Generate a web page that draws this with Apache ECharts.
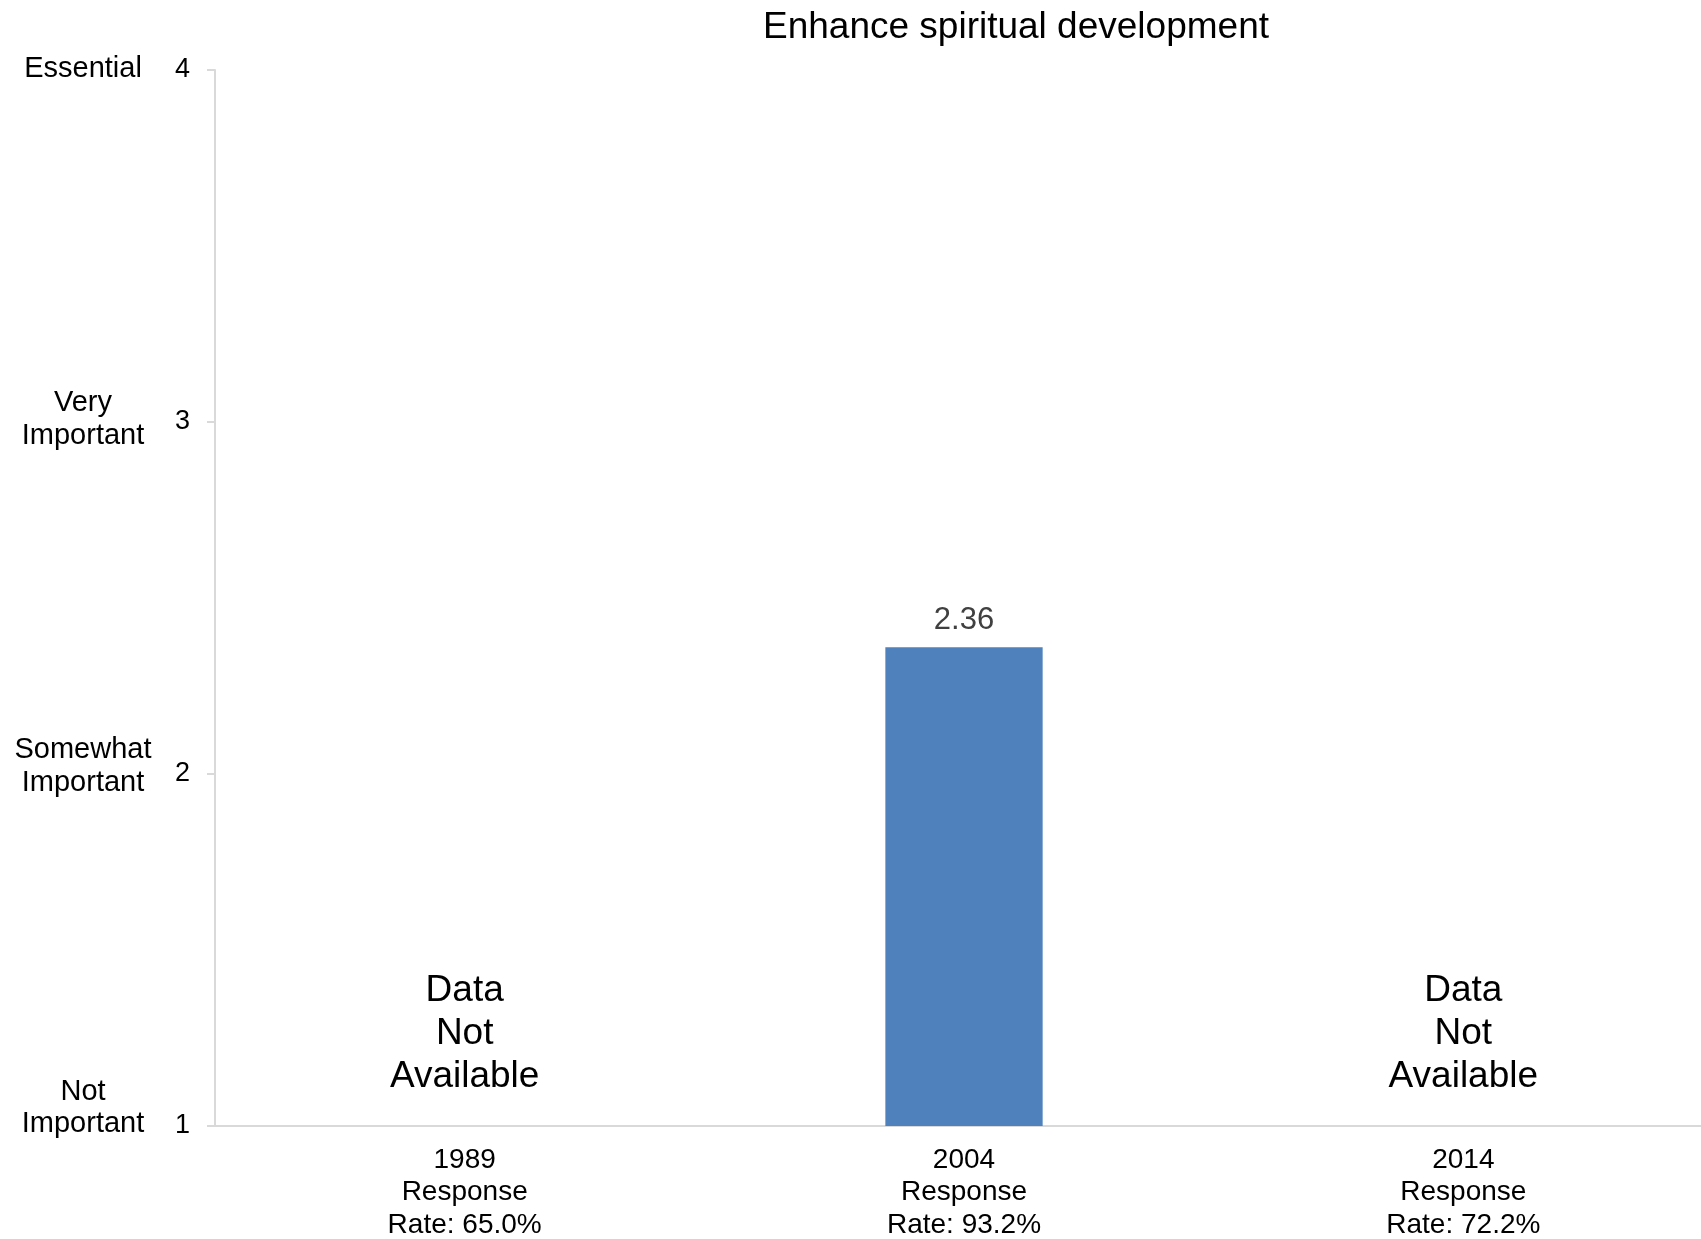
<!DOCTYPE html>
<html>
<head>
<meta charset="utf-8">
<script src="https://cdn.jsdelivr.net/npm/echarts@6/dist/echarts.min.js"></script>
<style>
  html, body { margin: 0; padding: 0; background: #fff; }
  #chart { width: 1701px; height: 1239px; }
</style>
</head>
<body>
<div id="chart"></div>
<script>
// données du graphique
const chartTitle = 'Enhance spiritual development';
const categories = ['1989\nResponse\nRate: 65.0%', '2004\nResponse\nRate: 93.2%', '2014\nResponse\nRate: 72.2%'];
const meanValues = [null, 2.36, null];
const notAvailable = [true, false, true];
const naText = 'Data\nNot\nAvailable';
const naLevel = 1.262;
const yTicks = [1, 2, 3, 4];
const yNames = { 1: 'Not\nImportant', 2: 'Somewhat\nImportant', 3: 'Very\nImportant', 4: 'Essential' };
// décalage vertical des libellés (ligne vide en bas)
const yNameLift = { 1: 'g1', 2: 'g2', 3: 'g3', 4: 'g4' };

const chart = echarts.init(document.getElementById('chart'));
const font = 'Liberation Sans, Arial, sans-serif';

const naData = notAvailable.map((na, i) => na ? [i, naLevel] : null).filter(d => d);

const option = {
  animation: false,
  textStyle: { fontFamily: font },
  title: {
    text: chartTitle,
    left: 758,
    top: 4,
    textStyle: { fontFamily: font, fontSize: 37, fontWeight: 'normal', color: '#000' }
  },
  grid: { left: 215, right: -12, top: 70, bottom: 113, containLabel: false, outerBoundsMode: 'none' },
  xAxis: {
    type: 'category',
    data: categories,
    axisLine: { lineStyle: { color: '#d9d9d9', width: 2 } },
    axisTick: { show: false },
    axisLabel: { color: '#000', fontSize: 28, lineHeight: 32.5, margin: 18, fontFamily: font }
  },
  yAxis: [
    {
      type: 'value',
      min: yTicks[0],
      max: yTicks[yTicks.length - 1],
      interval: 1,
      splitLine: { show: false },
      axisLine: { show: true, lineStyle: { color: '#d9d9d9', width: 2 } },
      axisTick: { show: true, length: 8, lineStyle: { color: '#d9d9d9', width: 2 } },
      axisLabel: { color: '#000', fontSize: 27, margin: 25, fontFamily: font }
    },
    {
      type: 'value',
      position: 'left',
      min: yTicks[0],
      max: yTicks[yTicks.length - 1],
      interval: 1,
      splitLine: { show: false },
      axisLine: { show: false },
      axisTick: { show: false },
      axisLabel: {
        color: '#000', fontSize: 29, lineHeight: 32.5, margin: 132, align: 'center',
        fontFamily: font,
        formatter: v => yNames[v] ? yNames[v] + '\n{' + yNameLift[v] + '| }' : '',
        rich: {
          g1: { lineHeight: 36, fontSize: 2 },
          g2: { lineHeight: 15, fontSize: 2 },
          g3: { lineHeight: 5, fontSize: 2 },
          g4: { lineHeight: 2, fontSize: 2 }
        }
      }
    }
  ],
  series: [
    {
      type: 'bar',
      data: meanValues,
      barWidth: '31.5%',
      itemStyle: { color: '#4f81bd' },
      label: {
        show: true,
        position: 'top',
        distance: 11,
        color: '#404040',
        fontSize: 31,
        fontFamily: font,
        formatter: p => p.value == null ? '' : p.value.toFixed(2)
      }
    },
    {
      type: 'scatter',
      data: naData,
      symbolSize: 0,
      silent: true,
      itemStyle: { opacity: 1 },
      label: {
        show: true,
        position: 'inside',
        formatter: naText,
        color: '#000',
        fontSize: 37,
        lineHeight: 43,
        align: 'center',
        fontFamily: font
      }
    }
  ]
};

chart.setOption(option);
window.addEventListener('resize', () => chart.resize());
</script>
</body>
</html>
